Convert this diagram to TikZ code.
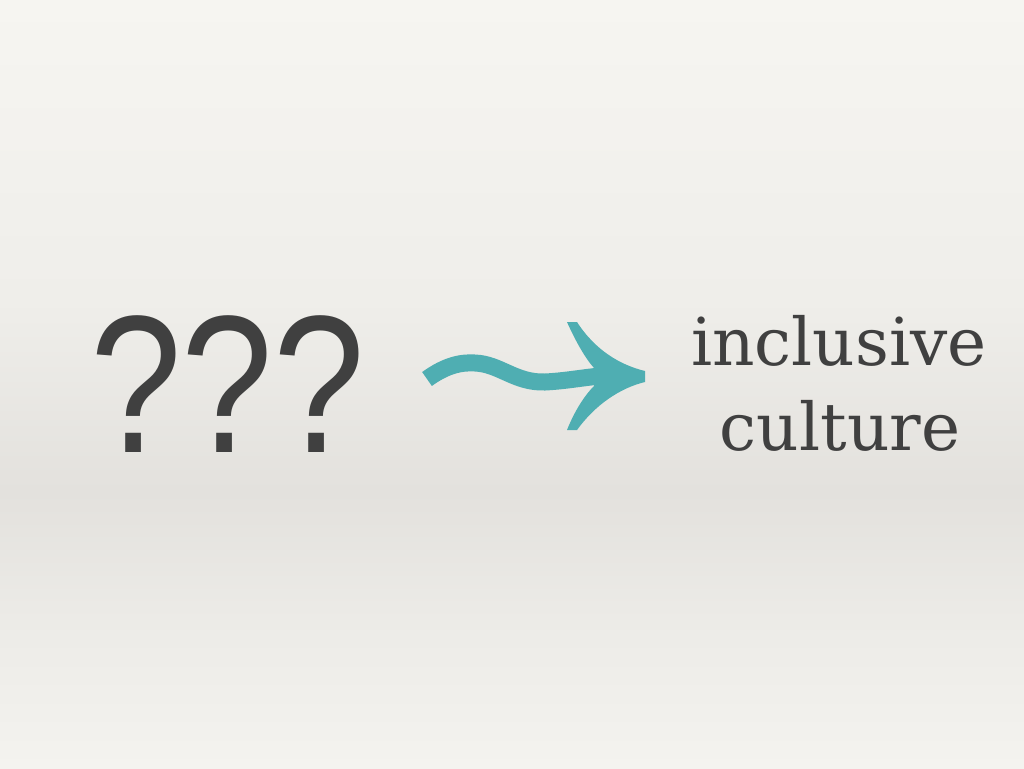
\documentclass[tikz,border=0pt]{standalone}
\usepackage{fontspec}
\setmainfont{DejaVu Serif}
\newfontfamily\qfont{Liberation Sans}
\definecolor{ink}{HTML}{404040}
\definecolor{teal}{HTML}{4FAEB2}
\definecolor{bgA}{HTML}{F6F5F1}
\definecolor{bgB}{HTML}{EFEEEA}
\definecolor{bgC}{HTML}{E3E1DD}
\definecolor{bgD}{HTML}{ECEBE7}
\definecolor{bgE}{HTML}{F4F3EF}
\tikzset{
  txt/.style={text=ink, inner sep=0pt, anchor=base},
}
\begin{document}
\begin{tikzpicture}[x=1pt,y=-1pt]
\useasboundingbox (0,0) rectangle (1024,768);
\shade[top color=bgA, bottom color=bgB] (0,0) rectangle (1024,300);
\shade[top color=bgB, bottom color=bgC] (0,300) rectangle (1024,492);
\shade[top color=bgC, bottom color=bgD] (0,492) rectangle (1024,620);
\shade[top color=bgD, bottom color=bgE] (0,620) rectangle (1024,768);
\node[txt, anchor=base west] (q) at (90,452) {\scalebox{0.84}[1]{\qfont\fontsize{196}{196}\selectfont ???}};
\node[txt] (inc) at (839,365) {\fontsize{66}{66}\selectfont inclusive};
\node[txt] (cul) at (840,450) {\fontsize{66}{66}\selectfont culture};
% arrow
\draw[teal, line width=17pt] (427,379) .. controls (445,366) and (460,362) .. (475,363)
  .. controls (500,364) and (515,383) .. (545,382)
  .. controls (565,381) and (580,378) .. (600,376);
\fill[teal] (567,322) -- (577,322) .. controls (595,350) and (620,365) .. (645,371)
  -- (645,382) .. controls (620,388) and (595,405) .. (577,430) -- (567,430)
  .. controls (575,410) and (585,395) .. (594,386) -- (594,368)
  .. controls (585,358) and (575,340) .. (567,322) -- cycle;
\end{tikzpicture}
\end{document}
